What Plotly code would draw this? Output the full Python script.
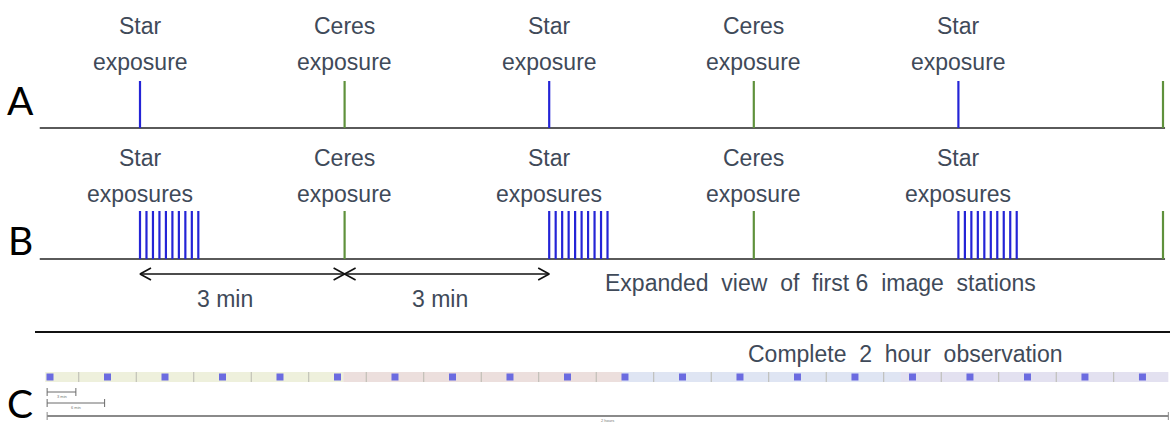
import plotly.graph_objects as go

# ---------------- data (times in minutes) ----------------
# Row A: single exposures
a_star_times = [0, 6, 12]
a_ceres_times = [3, 9, 15]
# Row B: bursts of star exposures (offsets in seconds) and single Ceres exposures
b_burst_starts = [0, 6, 12]
b_burst_offsets_s = [0, 5.7, 11.4, 17.1, 22.8, 28.5, 34.2, 39.9, 45.6, 51.3]
b_ceres_times = [3, 9, 15]
timeline_span = [-1.47, 15.03]
arrow_spans = [(0, 3), (3, 6)]
arrow_labels = ["3 min", "3 min"]
arrow_label_times = [1.25, 4.4]

# Row C: complete 2 hour observation
c_star_times = [0, 6, 12, 18, 24, 30, 36, 42, 48, 54, 60, 66, 72, 78, 84, 90, 96, 102, 108, 114]
c_span = [-0.5, 116.7]
c_segment_bounds = [-0.5, 30.6, 59.7, 88.8, 116.7]
c_segment_colors = ["#eef0dc", "#ecdfdd", "#dfe5f3", "#e3e1f0"]
c_scale_labels = ["3 min", "6 min", "2 hours"]
c_scale_lengths = [3, 6, 117]
c_scale_start = -0.3

# ---------------- styles ----------------
TXT = "#3f4a59"
BLUE = "#2424d6"
GREEN = "#5f913c"
BASE = "#5a5a5a"
FONT = "Liberation Sans, Arial, sans-serif"
FS = 23

PX_PER_MIN = 68.2
X0_PX = 140
PX_PER_MIN_C = 9.583
X0C_PX = 50
W, H = 1170, 423

# vertical layout (pixels from top)
yA_base, yA_top = 128, 81
yB_base, yB_top = 259, 211
y_arrow = 274

fig = go.Figure()


def vlines(times, y0, y1):
    xs, ys = [], []
    for t in times:
        xs += [t, t, None]
        ys += [y0, y1, None]
    return xs, ys


def add_line(xs, ys, color, width, xaxis="x"):
    fig.add_trace(go.Scatter(x=xs, y=ys, mode="lines", xaxis=xaxis, yaxis="y",
                             line=dict(color=color, width=width),
                             hoverinfo="skip", showlegend=False))


# Row A
add_line(timeline_span, [yA_base, yA_base], BASE, 2)
xs, ys = vlines(a_star_times, yA_top, yA_base)
add_line(xs, ys, BLUE, 2.2)
xs, ys = vlines(a_ceres_times, yA_top, yA_base)
add_line(xs, ys, GREEN, 2.2)

# Row B
add_line(timeline_span, [yB_base, yB_base], BASE, 2)
burst_times = [s + o / 60 for s in b_burst_starts for o in b_burst_offsets_s]
xs, ys = vlines(burst_times, yB_top, yB_base)
add_line(xs, ys, BLUE, 2.2)
xs, ys = vlines(b_ceres_times, yB_top, yB_base)
add_line(xs, ys, GREEN, 2.2)

# Arrows with open chevrons
head_len = 11 / PX_PER_MIN
head_half = 6
for (t0, t1) in arrow_spans:
    add_line([t0, t1], [y_arrow, y_arrow], "#111111", 1.6)
    add_line([t0 + head_len, t0, t0 + head_len],
             [y_arrow - head_half, y_arrow, y_arrow + head_half], "#111111", 1.6)
    add_line([t1 - head_len, t1, t1 - head_len],
             [y_arrow - head_half, y_arrow, y_arrow + head_half], "#111111", 1.6)

ann = []


def text(x, y, s, size=FS, color=TXT, xref="x", yref="y", xanchor="center"):
    ann.append(dict(x=x, y=y, xref=xref, yref=yref, text=s, showarrow=False,
                    xanchor=xanchor, yanchor="middle",
                    font=dict(family=FONT, size=size, color=color)))


for t in a_star_times:
    text(t, 26, "Star")
    text(t, 62, "exposure")
for t in a_ceres_times[:2]:
    text(t, 26, "Ceres")
    text(t, 62, "exposure")
for t in b_burst_starts:
    text(t, 158, "Star")
    text(t, 194, "exposures")
for t in b_ceres_times[:2]:
    text(t, 158, "Ceres")
    text(t, 194, "exposure")
for lab, t in zip(arrow_labels, arrow_label_times):
    text(t, 299, lab)
text(820 / W, 283, "Expanded  view  of  first 6  image  stations", xref="paper")
text(905 / W, 354, "Complete  2  hour  observation", xref="paper")

# Row letters
for lab, yy in zip(["A", "B", "C"], [100, 240, 403]):
    ann.append(dict(x=20 / W, y=yy, xref="paper", yref="y", text=lab, showarrow=False,
                    xanchor="center", yanchor="middle",
                    font=dict(family="Lato, Open Sans, sans-serif", size=39, color="#000000")))

# Separator line
shapes = [dict(type="line", xref="paper", yref="y", x0=35 / W, x1=1.0, y0=332, y1=332,
               line=dict(color="#111111", width=2))]

# Row C bar segments
yC0, yC1 = 372, 382
for i, col in enumerate(c_segment_colors):
    shapes.append(dict(type="rect", xref="x2", yref="y",
                       x0=c_segment_bounds[i], x1=c_segment_bounds[i + 1], y0=yC0, y1=yC1,
                       fillcolor=col, line=dict(width=0), layer="below"))
# dividers at midpoints between stations
div_times = [(a + b) / 2 for a, b in zip(c_star_times[:-1], c_star_times[1:])]
xs, ys = vlines(div_times, yC0, yC1)
add_line(xs, ys, "#b9b9b0", 1, xaxis="x2")
# star stations
fig.add_trace(go.Scatter(x=c_star_times, y=[377] * len(c_star_times), mode="markers",
                         xaxis="x2", yaxis="y",
                         marker=dict(symbol="square", size=7, color="#6b6be0"),
                         hoverinfo="skip", showlegend=False))
# scale bars
scale_y = [392, 403, 416]
for lab, ln, yy in zip(c_scale_labels, c_scale_lengths, scale_y):
    x1 = c_scale_start + ln
    big = ln > 60
    col = "#8a8a8a" if big else "#6a6a6a"
    add_line([c_scale_start, x1], [yy, yy], col, 2 if big else 1, xaxis="x2")
    xs, ys = vlines([c_scale_start, x1], yy - 4, yy + 4)
    add_line(xs, ys, col, 1, xaxis="x2")
    ann.append(dict(x=(c_scale_start + x1) / 2, y=yy + 4, xref="x2", yref="y", text=lab,
                    showarrow=False, xanchor="center", yanchor="middle",
                    font=dict(family=FONT, size=4, color="#777777")))

fig.update_layout(
    width=W, height=H, autosize=False,
    margin=dict(l=0, r=0, t=0, b=0, pad=0),
    paper_bgcolor="white", plot_bgcolor="white",
    xaxis=dict(range=[-X0_PX / PX_PER_MIN, (W - X0_PX) / PX_PER_MIN], visible=False, fixedrange=True),
    xaxis2=dict(range=[-X0C_PX / PX_PER_MIN_C, (W - X0C_PX) / PX_PER_MIN_C], visible=False,
                overlaying="x", anchor="y", fixedrange=True),
    yaxis=dict(range=[H, 0], visible=False, fixedrange=True),
    annotations=ann, shapes=shapes, showlegend=False,
)

fig.write_html("out.html", config={"displayModeBar": False},
               post_script="document.body.style.margin='0px';document.body.style.overflow='hidden';")
